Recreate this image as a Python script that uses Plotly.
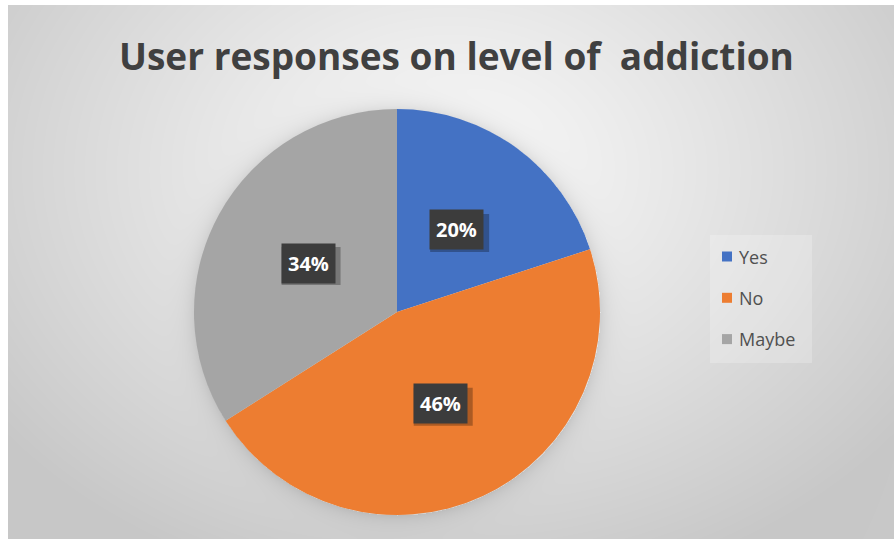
import base64
import math
import struct
import zlib

import numpy as np
import plotly.graph_objects as go

# ---- data ----
categories = ["Yes", "No", "Maybe"]
shares = [20, 46, 34]
colors = ["#4472C4", "#ED7D31", "#A5A5A5"]
title_text = "User responses on level of  addiction"

# ---- geometry (pixels) ----
W, H = 894, 539
PANEL_X0, PANEL_Y0 = 8, 5
CX, CY, R = 397, 312, 203
BOX_W, BOX_H = 59, 38


def png_b64(arr):
    """Encode an HxWx3 uint8 array as a base64 PNG data URI."""
    h, w, _ = arr.shape
    raw = b"".join(b"\x00" + arr[y].tobytes() for y in range(h))

    def chunk(tag, data):
        c = struct.pack(">I", len(data)) + tag + data
        return c + struct.pack(">I", zlib.crc32(tag + data) & 0xFFFFFFFF)

    png = b"\x89PNG\r\n\x1a\n"
    png += chunk(b"IHDR", struct.pack(">IIBBBBB", w, h, 8, 2, 0, 0, 0))
    png += chunk(b"IDAT", zlib.compress(raw, 9))
    png += chunk(b"IEND", b"")
    return "data:image/png;base64," + base64.b64encode(png).decode()


# Radial grey gradient panel with a soft halo around the pie
pw, ph = W - PANEL_X0, H - PANEL_Y0
yy, xx = np.mgrid[0:ph, 0:pw].astype(float)
gx, gy = 450 - PANEL_X0, 170 - PANEL_Y0
t = np.sqrt(((xx - gx) / 560) ** 2 + ((yy - gy) / 430) ** 2)
t = np.clip(t, 0, 1)
val = 249 - 49 * t ** 1.15
d = np.sqrt((xx - (CX - PANEL_X0)) ** 2 + (yy - (CY - PANEL_Y0)) ** 2) - R
halo = np.where(d > 0, 22 * np.exp(-d / 9), 0)
val = np.clip(val - halo, 0, 255).astype(np.uint8)
bg = np.stack([val, val, val], axis=-1)

fig = go.Figure()

fig.add_trace(go.Pie(
    labels=categories,
    values=shares,
    marker=dict(colors=colors, line=dict(width=0)),
    sort=False,
    direction="clockwise",
    rotation=0,
    textinfo="none",
    hoverinfo="label+percent",
    showlegend=False,
    domain=dict(x=[(CX - R) / W, (CX + R) / W],
                y=[1 - (CY + R) / H, 1 - (CY - R) / H]),
))

annotations = []
shapes = []

# Percentage labels in dark boxes with a drop shadow, at mid-angle of each slice
total = sum(shares)
cum = 0
for cat, v in zip(categories, shares):
    mid = (cum + v / 2) / total * 2 * math.pi
    cum += v
    px = CX + 0.5 * R * math.sin(mid)
    py = CY - 0.5 * R * math.cos(mid)
    sx, sy = px + 3, py + 3
    shapes.append(dict(type="rect", xref="paper", yref="paper",
                       x0=(sx - BOX_W / 2) / W, x1=(sx + BOX_W / 2) / W,
                       y0=1 - (sy + BOX_H / 2) / H, y1=1 - (sy - BOX_H / 2) / H,
                       fillcolor="rgba(0,0,0,0.28)", line=dict(width=0)))
    annotations.append(dict(x=px / W, y=1 - py / H, xref="paper", yref="paper",
                            text=f"<b>{round(v / total * 100)}%</b>",
                            showarrow=False, borderpad=6, bgcolor="#3c3c3c",
                            xanchor="center", yanchor="middle",
                            font=dict(family="Open Sans", size=20, color="white")))

# Legend box
LX0, LY0, LX1, LY1 = 710, 235, 812, 363
shapes.append(dict(type="rect", xref="paper", yref="paper",
                   x0=LX0 / W, x1=LX1 / W, y0=1 - LY1 / H, y1=1 - LY0 / H,
                   fillcolor="rgba(255,255,255,0.22)", line=dict(width=0), layer="below"))
for i, (cat, col) in enumerate(zip(categories, colors)):
    ymid = 256.5 + i * 41.3
    shapes.append(dict(type="rect", xref="paper", yref="paper",
                       x0=722 / W, x1=732 / W,
                       y0=1 - (ymid + 5) / H, y1=1 - (ymid - 5) / H,
                       fillcolor=col, line=dict(width=0)))
    annotations.append(dict(x=737 / W, y=1 - ymid / H, xref="paper", yref="paper",
                            text=cat, showarrow=False, xanchor="left", yanchor="middle",
                            font=dict(family="Open Sans", size=18, color="#505050")))

# Title
annotations.append(dict(x=457 / W, y=1 - 55 / H, xref="paper", yref="paper",
                        text=f"<b>{title_text}</b>", showarrow=False,
                        xanchor="center", yanchor="middle",
                        font=dict(family="Open Sans", size=37, color="#404040")))

fig.update_layout(
    width=W, height=H,
    margin=dict(l=0, r=0, t=0, b=0),
    paper_bgcolor="white",
    plot_bgcolor="white",
    images=[dict(source=png_b64(bg), xref="paper", yref="paper",
                 x=PANEL_X0 / W, y=1 - PANEL_Y0 / H,
                 sizex=pw / W, sizey=ph / H,
                 xanchor="left", yanchor="top", sizing="stretch", layer="below")],
    annotations=annotations,
    shapes=shapes,
)

fig.write_html("out.html", config=dict(displayModeBar=False))
